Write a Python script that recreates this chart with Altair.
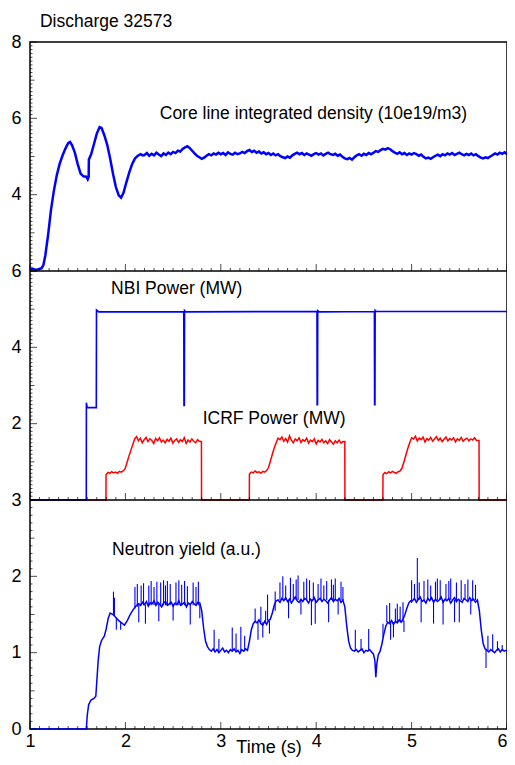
import altair as alt
import pandas as pd

FONT = "Arial, 'Liberation Sans', sans-serif"
BLUE = "#0000ff"
RED = "#ff0000"

# ---------------- Core line integrated density (10e19/m3) ----------------
dens_rise_t = [1.00, 1.03, 1.06, 1.09, 1.12, 1.14, 1.16, 1.19, 1.22, 1.25,
               1.28, 1.31, 1.34, 1.37, 1.40, 1.42, 1.44, 1.47, 1.50, 1.53,
               1.56, 1.59, 1.605, 1.615, 1.617, 1.64, 1.67, 1.70, 1.73, 1.75,
               1.78, 1.81, 1.84, 1.87, 1.90, 1.93, 1.955, 1.98, 2.01, 2.04,
               2.07, 2.10, 2.13, 2.16, 2.18]
dens_rise_v = [2.04, 2.06, 2.03, 2.05, 2.07, 2.15, 2.40, 2.95, 3.60, 4.10,
               4.50, 4.80, 5.02, 5.20, 5.35, 5.38, 5.30, 5.10, 4.80, 4.55,
               4.48, 4.47, 4.40, 4.46, 4.92, 5.05, 5.32, 5.60, 5.77, 5.75,
               5.55, 5.30, 4.95, 4.55, 4.20, 3.98, 3.92, 4.05, 4.32, 4.58,
               4.80, 4.95, 5.02, 5.06, 5.03]
dens_flat_t0 = 2.2
dens_flat_step = 0.025
dens_flat_v = [5.04, 5.09, 5.02, 5.07, 5.03, 5.10, 5.05, 5.01,
               5.08, 5.04, 5.10, 5.06, 5.12, 5.09, 5.15, 5.13,
               5.20, 5.24, 5.27, 5.22, 5.15, 5.08, 5.02, 4.98,
               4.94, 4.97, 5.02, 5.06, 5.03, 5.08, 5.05, 5.10,
               5.06, 5.09, 5.04, 5.11, 5.07, 5.05, 5.10, 5.06,
               5.08, 5.12, 5.09, 5.14, 5.17, 5.12, 5.15, 5.10,
               5.13, 5.08, 5.11, 5.06, 5.09, 5.04, 5.08, 5.03,
               5.06, 5.01, 4.98, 4.96, 5.00, 4.97, 5.03, 5.07,
               5.10, 5.06, 5.09, 5.04, 5.08, 5.05, 5.02, 5.06,
               5.09, 5.05, 5.08, 5.03, 5.07, 5.10, 5.06, 5.04,
               5.07, 5.02, 5.05, 4.99, 4.95, 4.93, 4.96, 4.92,
               4.98, 5.03, 5.06, 5.02, 5.07, 5.04, 5.09, 5.06,
               5.10, 5.14, 5.12, 5.17, 5.20, 5.18, 5.22, 5.19,
               5.14, 5.10, 5.07, 5.11, 5.06, 5.09, 5.04, 5.08,
               5.05, 5.09, 5.06, 5.02, 5.05, 4.99, 4.95, 4.97,
               4.94, 4.98, 5.02, 5.05, 5.01, 5.06, 5.03, 5.08,
               5.05, 5.09, 5.04, 5.07, 5.10, 5.06, 5.03, 5.07,
               5.04, 5.08, 5.03, 5.06, 5.01, 4.97, 4.95, 4.98,
               4.96, 5.00, 5.04, 5.08, 5.05, 5.10, 5.07, 5.11,
               5.06]

# ---------------- NBI power (MW) ----------------
nbi_t = [1.00, 1.590, 1.591, 1.600, 1.695, 1.697, 1.720,
         2.612, 2.614, 2.618, 2.620, 2.630,
         4.008, 4.010, 4.014, 4.016, 4.030,
         4.610, 4.612, 4.616, 4.618, 4.630, 6.00]
nbi_v = [0.0, 0.0, 2.55, 2.42, 2.42, 4.98, 4.93,
         4.93, 2.48, 2.48, 4.96, 4.93,
         4.94, 2.50, 2.50, 4.96, 4.93,
         4.94, 2.50, 2.50, 4.97, 4.94, 4.94]

# ---------------- ICRF power (MW) ----------------
icrf_on = [1.797, 3.300, 4.700]
icrf_off = [2.797, 4.300, 5.707]
icrf_step = 0.02
icrf_p1 = [0.66, 0.72, 0.70, 0.74, 0.71, 0.73, 0.70, 0.75, 0.73, 0.76,
           0.82, 0.98, 1.15, 1.30, 1.45, 1.60,
           1.66, 1.55, 1.62, 1.50, 1.58, 1.64, 1.53, 1.60, 1.56, 1.48,
           1.61, 1.55, 1.63, 1.52, 1.57, 1.50, 1.59, 1.54, 1.62, 1.49,
           1.56, 1.60, 1.51, 1.58, 1.53, 1.63, 1.48, 1.57, 1.52, 1.60,
           1.54, 1.50, 1.58, 1.53]
icrf_p2 = [0.68, 0.73, 0.71, 0.76, 0.72, 0.74, 0.70, 0.75, 0.73, 0.77,
           0.85, 1.02, 1.20, 1.36, 1.50, 1.62,
           1.58, 1.65, 1.54, 1.61, 1.52, 1.68, 1.57, 1.50, 1.60, 1.55,
           1.63, 1.51, 1.58, 1.54, 1.62, 1.49, 1.57, 1.53, 1.60, 1.47,
           1.56, 1.52, 1.59, 1.50, 1.55, 1.48, 1.58, 1.52, 1.46, 1.55,
           1.50, 1.57, 1.49, 1.53]
icrf_p3 = [0.66, 0.72, 0.69, 0.74, 0.71, 0.75, 0.72, 0.70, 0.74, 0.76,
           0.84, 1.00, 1.18, 1.35, 1.50, 1.63,
           1.60, 1.67, 1.55, 1.62, 1.58, 1.65, 1.52, 1.61, 1.57, 1.64,
           1.54, 1.60, 1.66, 1.56, 1.62, 1.53, 1.59, 1.65, 1.55, 1.61,
           1.57, 1.63, 1.52, 1.60, 1.56, 1.64, 1.54, 1.59, 1.62, 1.55,
           1.60, 1.57, 1.63, 1.56]

# ---------------- Neutron yield (a.u.) ----------------
neut_knots = [(1.00, 0.0), (1.59, 0.0), (1.60, 0.18), (1.615, 0.32), (1.64, 0.38),
              (1.67, 0.40), (1.69, 0.43), (1.70, 0.62), (1.715, 0.90), (1.73, 1.08),
              (1.75, 1.16), (1.78, 1.22), (1.80, 1.32), (1.82, 1.45), (1.84, 1.52),
              (1.87, 1.50), (1.90, 1.46), (1.93, 1.42), (1.96, 1.39), (1.99, 1.36),
              (2.02, 1.42), (2.05, 1.50), (2.08, 1.56), (2.11, 1.61), (2.14, 1.64),
              (2.80, 1.55), (2.82, 1.32), (2.84, 1.15), (2.86, 1.08), (2.88, 1.04),
              (3.30, 1.15), (3.32, 1.30), (3.34, 1.38), (3.36, 1.41),
              (3.54, 1.52), (3.56, 1.62), (3.58, 1.68),
              (4.30, 1.60), (4.32, 1.35), (4.34, 1.15), (4.36, 1.06), (4.38, 1.03),
              (4.60, 0.98), (4.615, 0.90), (4.625, 0.68), (4.635, 0.85), (4.65, 0.97),
              (4.67, 1.02), (4.69, 1.12), (4.71, 1.25), (4.73, 1.35), (4.75, 1.40),
              (4.93, 1.50), (4.95, 1.58), (4.97, 1.65), (4.99, 1.68),
              (5.71, 1.55), (5.73, 1.30), (5.75, 1.12), (5.77, 1.05), (6.00, 1.03)]
neut_step = 0.02
neut_runs = [
    (2.16, [1.62, 1.66, 1.63, 1.67, 1.61, 1.65, 1.64, 1.68, 1.62, 1.66, 1.63, 1.60,
            1.65, 1.67, 1.62, 1.64, 1.66, 1.61, 1.65, 1.63, 1.68, 1.62, 1.64, 1.66,
            1.60, 1.65, 1.63, 1.67, 1.64, 1.62, 1.66, 1.65]),
    (2.90, [1.02, 1.05, 1.01, 1.04, 1.00, 1.03, 1.06, 1.01, 1.03, 1.00,
            1.04, 1.02, 1.05, 1.01, 1.03, 0.99, 1.04, 1.02, 1.05, 1.03]),
    (3.38, [1.39, 1.43, 1.38, 1.36, 1.41, 1.37, 1.42, 1.44]),
    (3.60, [1.69, 1.66, 1.71, 1.68, 1.72, 1.67, 1.70, 1.65, 1.69, 1.73, 1.68, 1.66,
            1.70, 1.67, 1.71, 1.69, 1.65, 1.70, 1.68, 1.72, 1.66, 1.69, 1.71, 1.67,
            1.70, 1.68, 1.65, 1.69, 1.72, 1.67, 1.70, 1.68, 1.71, 1.66, 1.69]),
    (4.40, [1.02, 1.04, 1.01, 1.03, 1.05, 1.00, 1.03, 1.02, 1.04, 1.01]),
    (4.77, [1.38, 1.42, 1.37, 1.41, 1.39, 1.43, 1.40, 1.44]),
    (5.01, [1.68, 1.71, 1.66, 1.70, 1.73, 1.67, 1.69, 1.65, 1.71, 1.68, 1.72, 1.66,
            1.70, 1.67, 1.69, 1.73, 1.66, 1.70, 1.68, 1.71, 1.65, 1.69, 1.72, 1.67,
            1.70, 1.68, 1.66, 1.71, 1.69, 1.67, 1.72, 1.68, 1.70, 1.66, 1.69]),
    (5.79, [1.03, 1.01, 1.04, 1.02, 1.00, 1.03, 1.05, 1.01, 1.04, 1.02, 1.03]),
]
# spikes: time, low end, high end
spike_t = [1.875, 1.885, 1.905, 1.95, 2.10, 2.125, 2.14, 2.165, 2.19, 2.21, 2.245, 2.27,
           2.30, 2.33, 2.35, 2.37, 2.40, 2.42, 2.44, 2.47, 2.50, 2.53, 2.56, 2.59,
           2.62, 2.65, 2.68, 2.71, 2.74, 2.765, 2.78,
           2.93, 2.98, 3.12, 3.16, 3.21, 3.25,
           3.36, 3.39, 3.42, 3.44, 3.47, 3.49, 3.51, 3.57,
           3.62, 3.65, 3.68, 3.71, 3.73, 3.76, 3.79, 3.81, 3.84, 3.87, 3.90, 3.93,
           3.95, 3.97, 3.99, 4.02, 4.05, 4.08, 4.11, 4.13, 4.16, 4.18, 4.20, 4.23,
           4.26, 4.28,
           4.41, 4.47, 4.55,
           4.70, 4.74, 4.77, 4.78, 4.81, 4.83, 4.85, 4.88, 4.91, 4.92,
           5.00, 5.03, 5.06, 5.08, 5.10, 5.13, 5.17, 5.20, 5.23, 5.25, 5.27, 5.30,
           5.33, 5.36, 5.39, 5.41, 5.45, 5.47, 5.50, 5.52, 5.56, 5.59, 5.62, 5.64,
           5.67,
           5.78, 5.80, 5.85, 5.90, 5.95]
spike_lo = [1.50, 1.48, 1.30, 1.30, 1.58, 1.60, 1.40, 1.62, 1.62, 1.38, 1.62, 1.62,
            1.62, 1.62, 1.41, 1.62, 1.62, 1.62, 1.62, 1.62, 1.42, 1.62, 1.62, 1.62,
            1.62, 1.62, 1.37, 1.62, 1.62, 1.62, 1.45,
            1.02, 1.02, 1.02, 1.02, 1.02, 1.02,
            1.40, 1.17, 1.40, 1.20, 1.40, 1.42, 1.25, 1.55,
            1.69, 1.69, 1.69, 1.45, 1.69, 1.69, 1.69, 1.69, 1.50, 1.69, 1.69, 1.69,
            1.36, 1.69, 1.38, 1.69, 1.69, 1.69, 1.69, 1.40, 1.69, 1.69, 1.69, 1.50,
            1.69, 1.69,
            1.03, 1.03, 1.03,
            1.20, 1.40, 1.40, 1.17, 1.20, 1.40, 1.40, 1.40, 1.40, 1.27,
            1.65, 1.69, 1.69, 1.69, 1.40, 1.69, 1.69, 1.69, 1.38, 1.69, 1.69, 1.69,
            1.37, 1.69, 1.69, 1.69, 1.40, 1.69, 1.40, 1.69, 1.69, 1.69, 1.50, 1.69,
            1.69,
            0.80, 1.03, 1.03, 1.03, 1.03]
spike_hi = [1.80, 1.72, 1.46, 1.40, 1.86, 1.90, 1.64, 1.88, 1.91, 1.63, 1.88, 1.94,
            1.86, 1.93, 1.64, 1.92, 1.95, 1.88, 1.94, 1.90, 1.64, 1.92, 1.95, 1.89,
            1.94, 1.87, 1.63, 1.92, 1.86, 1.93, 1.64,
            1.30, 1.18, 1.33, 1.25, 1.34, 1.22,
            1.58, 1.40, 1.60, 1.40, 1.55, 1.76, 1.42, 1.80,
            1.92, 2.00, 1.88, 1.69, 1.98, 1.90, 1.96, 2.01, 1.69, 1.93, 1.97, 1.95,
            1.69, 1.92, 1.69, 1.90, 1.97, 1.88, 1.94, 1.69, 1.96, 1.89, 1.97, 1.69,
            1.93, 1.86,
            1.30, 1.18, 1.31,
            1.38, 1.62, 1.65, 1.40, 1.40, 1.58, 1.64, 1.60, 1.66, 1.42,
            1.95, 1.90, 2.24, 1.92, 1.69, 1.94, 1.96, 1.88, 1.69, 1.93, 1.97, 1.95,
            1.69, 1.90, 1.94, 1.97, 1.69, 1.92, 1.69, 1.95, 1.90, 1.96, 1.69, 1.95,
            1.89,
            1.05, 1.22, 1.24, 1.15, 1.10]

# ---------------- Labels ----------------
ann_text = ["Discharge 32573", "Core line integrated density (10e19/m3)",
            "NBI Power (MW)", "ICRF Power (MW)", "Neutron yield (a.u.)"]
ann_t = [1.104, 2.36, 1.85, 2.81, 1.86]
ann_v = [8.39, 5.98, 5.40, 1.99, 2.28]

# ---------------- build tables ----------------
dens_rows = list(zip(dens_rise_t, dens_rise_v)) + [
    (round(dens_flat_t0 + i * dens_flat_step, 4), v) for i, v in enumerate(dens_flat_v)]
dens_df = pd.DataFrame(dens_rows, columns=["t", "v"])

nbi_df = pd.DataFrame({"t": nbi_t, "v": nbi_v})

icrf_rows = [(1.0, 0.0)]
for on, off, vals in zip(icrf_on, icrf_off, [icrf_p1, icrf_p2, icrf_p3]):
    icrf_rows.append((on - 0.001, 0.0))
    icrf_rows += [(round(on + i * icrf_step, 4), v) for i, v in enumerate(vals)]
    icrf_rows.append((off, vals[-1]))
    icrf_rows.append((off + 0.001, 0.0))
icrf_rows.append((6.0, 0.0))
icrf_df = pd.DataFrame(icrf_rows, columns=["t", "v"])

neut_rows = list(neut_knots)
for t0, vals in neut_runs:
    neut_rows += [(round(t0 + i * neut_step, 4), v) for i, v in enumerate(vals)]
neut_df = pd.DataFrame(neut_rows, columns=["t", "v"]).sort_values("t")
spike_df = pd.DataFrame({"t": spike_t, "lo": spike_lo, "hi": spike_hi})

ann_df = pd.DataFrame({"t": ann_t, "v": ann_v, "label": ann_text})

# ---------------- one view, three stacked y scales ----------------
W = 477
PH = 229            # height of each panel
H = 3 * PH
xs = alt.Scale(domain=[1, 6], nice=False, zero=False)
XA = alt.Axis(values=[1, 2, 3, 4, 5, 6], ticks=False, domain=False, grid=False,
              labelFont=FONT, labelFontSize=18, labelColor="black",
              labelPadding=3, labelFlush=False, labelOverlap=False,
              labelAlign={"condition": {"test": "datum.value >= 6", "value": "right"},
                          "value": "center"},
              title="Time (s)", titleFont=FONT, titleFontSize=18,
              titleFontWeight="normal", titleColor="black", titlePadding=-12)

ys1 = alt.Scale(domain=[2, 8], range=[PH, 0], nice=False, zero=False)
ys2 = alt.Scale(domain=[0, 6], range=[2 * PH, PH], nice=False, zero=False)
ys3 = alt.Scale(domain=[0, 3], range=[3 * PH, 2 * PH], nice=False, zero=False)


def y_axis(vals):
    return alt.Axis(values=vals, orient="left", ticks=False, domain=False, grid=False,
                    labelFont=FONT, labelFontSize=18, labelColor="black",
                    labelPadding=9, labelFlush=False, labelOverlap=False, title=None)


def X(field="t"):
    return alt.X(f"{field}:Q", scale=xs, axis=XA)


def line(df, ys, color, sw, axis=None):
    return alt.Chart(df).mark_line(color=color, strokeWidth=sw).encode(
        x=X(), y=alt.Y("v:Q", scale=ys, axis=axis))


def texts(idx, ys):
    return alt.Chart(ann_df.iloc[idx]).mark_text(
        align="left", baseline="alphabetic", font=FONT, fontSize=17.5, color="black").encode(
        x=X(), y=alt.Y("v:Q", scale=ys, axis=None), text="label:N")


def tick_layers(ys, bottom, y_major, y_med, y_minor):
    out = []
    x_minor = [round(1 + 0.1 * i, 2) for i in range(51) if i % 10 != 0]
    x_major = [1, 2, 3, 4, 5, 6]
    for vals, ln in [(x_minor, 3), (x_major, 7)]:
        df = pd.DataFrame({"t": vals, "ty": [bottom] * len(vals)})
        out.append(alt.Chart(df).mark_tick(orient="vertical", size=ln, thickness=1,
                                           yOffset=-ln / 2, color="black").encode(
            x=X(), y=alt.Y("ty:Q", scale=ys, axis=None)))
    for vals, ln in [(y_minor, 2.5), (y_med, 4.5), (y_major, 7)]:
        df = pd.DataFrame({"t": [1] * len(vals), "ty": vals})
        out.append(alt.Chart(df).mark_tick(orient="horizontal", size=ln, thickness=1,
                                           xOffset=ln / 2, color="black").encode(
            x=X(), y=alt.Y("ty:Q", scale=ys, axis=None)))
    return out


def separator(ys, top):
    return alt.Chart(pd.DataFrame({"ty": [top]})).mark_rule(
        color="black", strokeWidth=1.5).encode(y=alt.Y("ty:Q", scale=ys, axis=None))


spikes = alt.Chart(spike_df).mark_rule(color=BLUE, strokeWidth=1.1).encode(
    x=X(), y=alt.Y("lo:Q", scale=ys3, axis=None), y2="hi:Q")

layers = [
    # panel 1
    line(dens_df, ys1, BLUE, 2.5, y_axis([4, 6, 8])),
    *tick_layers(ys1, 2, [2, 4, 6, 8], [3, 5, 7],
                 [round(2 + 0.1 * i, 2) for i in range(61) if i % 10 != 0]),
    texts([0, 1], ys1),
    # panel 2
    line(icrf_df, ys2, RED, 1.5, y_axis([2, 4, 6])),
    line(nbi_df, ys2, BLUE, 1.6),
    *tick_layers(ys2, 0, [0, 2, 4, 6], [1, 3, 5],
                 [round(0.1 * i, 2) for i in range(61) if i % 10 != 0]),
    texts([2, 3], ys2),
    separator(ys2, 6),
    # panel 3
    line(neut_df, ys3, BLUE, 1.5, y_axis([0, 1, 2, 3])),
    spikes,
    *tick_layers(ys3, 0, [0, 1, 2, 3], [0.5, 1.5, 2.5],
                 [round(0.1 * i, 2) for i in range(31) if i % 5 != 0]),
    texts([4], ys3),
    separator(ys3, 3),
]

chart = alt.layer(*layers).resolve_scale(y="independent").resolve_axis(
    y="independent").properties(
    width=W, height=H,
    autosize=alt.AutoSizeParams(type="none"),
    padding={"left": 22, "top": 34, "right": 0, "bottom": 28},
).configure_view(stroke="black", strokeWidth=1.5)

chart.save("out.html", embed_options={"renderer": "svg", "actions": False})
